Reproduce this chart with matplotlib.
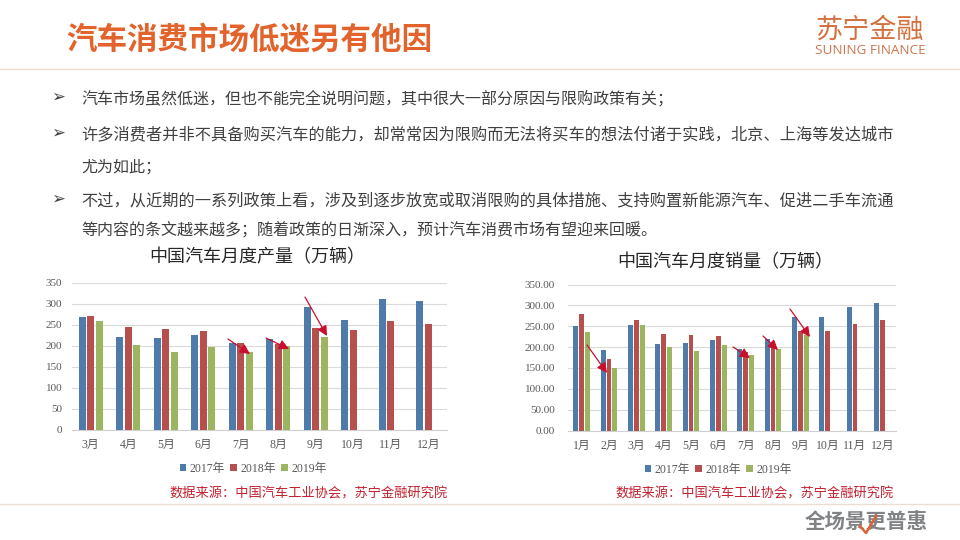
import numpy as np
import matplotlib
matplotlib.use('Agg')
import matplotlib.pyplot as plt
plt.rcParams['font.family'] = ['Noto Sans CJK SC', 'DejaVu Sans']

# 产量 (3-12月)
prod_months = ['3月', '4月', '5月', '6月', '7月', '8月', '9月', '10月', '11月', '12月']
prod_2017 = [268, 220, 218, 225, 207, 215, 291, 261, 310, 305]
prod_2018 = [270, 244, 240, 234, 206, 203, 242, 237, 258, 251]
prod_2019 = [258, 201, 185, 197, 185, 199, 220]

# 销量 (1-12月)
sale_months = ['1月', '2月', '3月', '4月', '5月', '6月', '7月', '8月', '9月', '10月', '11月', '12月']
sale_2017 = [251, 194, 254, 208, 210, 218, 196, 219, 271, 271, 297, 306]
sale_2018 = [280, 172, 266, 232, 229, 227, 188, 205, 239, 239, 256, 266]
sale_2019 = [237, 149, 252, 199, 191, 206, 181, 196, 229]

years = ['2017年', '2018年', '2019年']
colors = ['#4F7BAB', '#B5504F', '#9BB561']
num_font = ['Liberation Serif', 'Noto Sans CJK SC']
W, H = 960, 540


def make_chart(fig, box, months, series, yticks, ylabels, bar_w, legend_xy, ypad):
    # box是像素坐标 (左, 上, 右, 下)
    l, t, r, b = box
    ax = fig.add_axes([l / W, 1 - b / H, (r - l) / W, (b - t) / H])
    for i, vals in enumerate(series):
        x = np.arange(len(vals)) + (i - 1) * (bar_w + 0.035)
        ax.bar(x, vals, width=bar_w, color=colors[i], label=years[i], zorder=3)
    ax.set_xlim(-0.5, len(months) - 0.5)
    ax.set_ylim(0, 350)
    ax.set_xticks(range(len(months)))
    ax.set_xticklabels(months, family=num_font, fontsize=8.5, color='#595959')
    ax.set_yticks(yticks)
    ax.set_yticklabels(ylabels, family=num_font, fontsize=8, color='#595959')
    ax.tick_params(axis='x', length=0, pad=7)
    ax.tick_params(axis='y', length=0, pad=ypad)
    ax.grid(axis='y', color='#DADADA', lw=0.8, zorder=0)
    for s in ['top', 'left', 'right']:
        ax.spines[s].set_visible(False)
    ax.spines['bottom'].set_color('#D0D0D0')
    ax.legend(loc='center', bbox_to_anchor=(legend_xy[0] / W, 1 - legend_xy[1] / H),
              bbox_transform=fig.transFigure, ncol=3, frameon=False,
              prop={'family': num_font, 'size': 8.5}, labelcolor='#595959',
              handlelength=0.55, handleheight=0.55, handletextpad=0.3, columnspacing=0.45)
    return ax


fig = plt.figure(figsize=(9.6, 5.4), dpi=100, facecolor='white')

make_chart(fig, (72, 282.5, 447, 429.5), prod_months, [prod_2017, prod_2018, prod_2019],
           [0, 50, 100, 150, 200, 250, 300, 350],
           ['0', '50', '100', '150', '200', '250', '300', '350'], 0.19, (253, 469), 7)
make_chart(fig, (568, 284.5, 896, 430.5), sale_months, [sale_2017, sale_2018, sale_2019],
           [0, 50, 100, 150, 200, 250, 300, 350],
           ['0.00', '50.00', '100.00', '150.00', '200.00', '250.00', '300.00', '350.00'], 0.18, (718, 470), 9.4)

# 覆盖层：像素坐标画文字、线和箭头
ov = fig.add_axes([0, 0, 1, 1], zorder=5)
ov.set_xlim(0, W)
ov.set_ylim(H, 0)
ov.axis('off')
ov.patch.set_alpha(0)

ov.plot([0, W], [69, 69], color='#EBDDD2', lw=1)
ov.plot([0, W], [504, 504], color='#EBDDD2', lw=1)

ov.text(66, 40, '汽车消费市场低迷另有他因', fontsize=22, fontweight='bold', color='#E2632B', va='center')

ov.text(815, 30, '苏宁金融', fontsize=19.5, fontweight='medium', color='#D2713F', va='center')
ov.text(815, 51, 'SUNING FINANCE', fontsize=9.7, color='#C9764F', va='center', family='Open Sans')

body_lines = [
    (99, '汽车市场虽然低迷，但也不能完全说明问题，其中很大一部分原因与限购政策有关；', True, 11.55),
    (135, '许多消费者并非不具备购买汽车的能力，却常常因为限购而无法将买车的想法付诸于实践，北京、上海等发达城市', True, 11.67),
    (167, '尤为如此；', False, 11.55),
    (201, '不过，从近期的一系列政策上看，涉及到逐步放宽或取消限购的具体措施、支持购置新能源汽车、促进二手车流通', True, 11.67),
    (231, '等内容的条文越来越多；随着政策的日渐深入，预计汽车消费市场有望迎来回暖。', False, 11.55),
]
for y, line, bullet, size in body_lines:
    ov.text(81, y, line, fontsize=size, color='#404040', va='center')
    if bullet:
        ov.text(51, y - 2, '➢', fontsize=12, color='#404040', va='center', family='DejaVu Sans')

ov.text(257.5, 257, '中国汽车月度产量（万辆）', fontsize=13, color='#262626', ha='center', va='center')
ov.text(725.5, 262, '中国汽车月度销量（万辆）', fontsize=13, color='#262626', ha='center', va='center')

source = '数据来源：中国汽车工业协会，苏宁金融研究院'
ov.text(448, 494, source, fontsize=9.5, color='#C4202E', ha='right', va='center')
ov.text(894, 494, source, fontsize=9.5, color='#C4202E', ha='right', va='center')

# 红色箭头
arrows = [
    ((228, 339), (250, 354)), ((266, 338), (289, 349)), ((305, 297), (327, 336)),
    ((587, 345), (607, 373)), ((733, 347), (750, 358)), ((763, 336), (778, 350)), ((790, 309), (810, 337)),
]
for start, end in arrows:
    ov.annotate('', xy=end, xytext=start,
                arrowprops=dict(arrowstyle='-|>,head_length=0.6,head_width=0.3', color='#C8102E',
                                lw=0.9, shrinkA=0, shrinkB=0))

# 右下角标语，对勾压在文字上面
ov.text(805, 522, '全场景更普惠', fontsize=14.8, fontweight='bold', color='#808285', va='center', zorder=3)
ov.plot([860, 866, 876], [526, 533, 516], color='#D9663A', lw=1.8, zorder=4)

fig.savefig('out.png', dpi=100)
